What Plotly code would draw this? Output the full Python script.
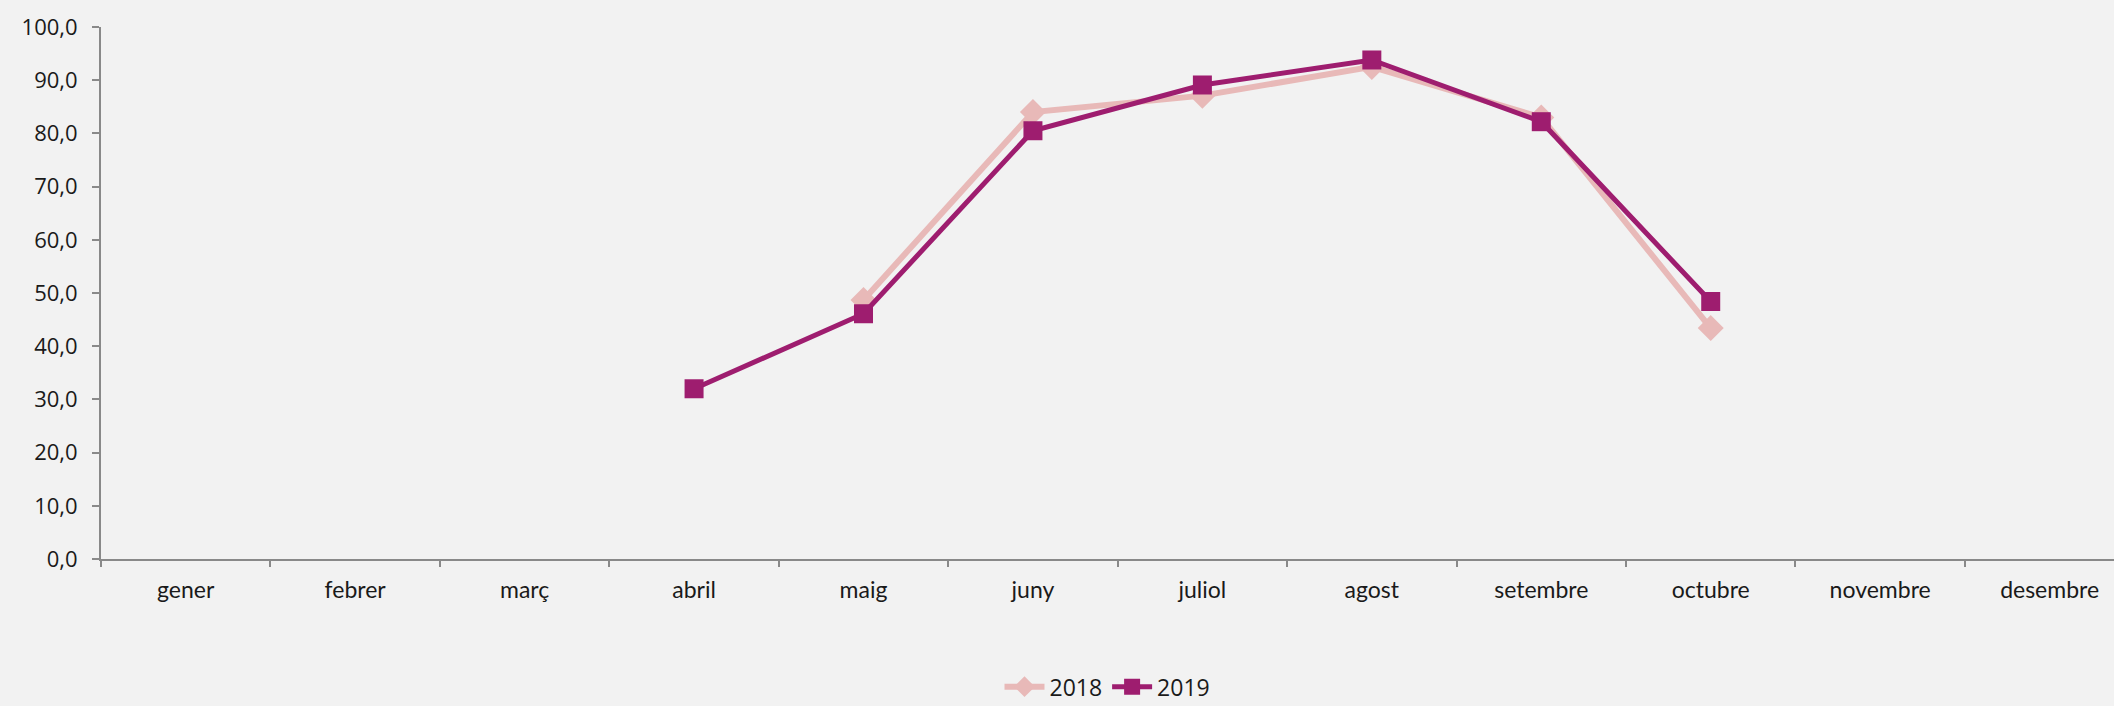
import plotly.graph_objects as go

months = ["gener", "febrer", "març", "abril", "maig", "juny", "juliol",
          "agost", "setembre", "octubre", "novembre", "desembre"]
values_2018 = [None, None, None, None, 48.7, 84.0, 87.1, 92.5, 83.0, 43.4, None, None]
values_2019 = [None, None, None, 32.0, 46.1, 80.5, 89.1, 93.8, 82.2, 48.4, None, None]
y_ticks = [0, 10, 20, 30, 40, 50, 60, 70, 80, 90, 100]

fig = go.Figure()
fig.add_trace(go.Scatter(
    x=months, y=values_2018, name="2018", mode="lines+markers",
    line=dict(color="#E8B9B8", width=6),
    marker=dict(symbol="diamond", size=20, color="#E8B9B8"),
))
fig.add_trace(go.Scatter(
    x=months, y=values_2019, name="2019", mode="lines+markers",
    line=dict(color="#9E1D6F", width=5),
    marker=dict(symbol="square", size=19, color="#9E1D6F"),
))

fig.update_layout(
    width=2114, height=706,
    margin=dict(l=101, r=0, t=27, b=147, autoexpand=False),
    paper_bgcolor="#F2F2F2", plot_bgcolor="#F2F2F2",
    separators=",.",
    showlegend=True,
    legend=dict(orientation="h", x=0.5, xanchor="center", y=-0.24, yanchor="middle",
                font=dict(family="Open Sans", size=23, color="#1a1a1a"),
                bgcolor="rgba(0,0,0,0)", itemwidth=40),
    font=dict(family="Open Sans", color="#1a1a1a"),
)
fig.update_xaxes(
    type="category", categoryorder="array", categoryarray=months,
    range=[-0.5, 11.38], tickson="boundaries",
    showline=True, linecolor="#898989", linewidth=2,
    ticks="outside", ticklen=6, tickcolor="#898989", tickwidth=2,
    showgrid=False, zeroline=False,
    tickfont=dict(family="Lato", size=23, color="#1a1a1a"),
    ticklabelstandoff=9,
)
fig.update_yaxes(
    range=[0, 100], tickvals=y_ticks, tickformat=".1f",
    showline=True, linecolor="#898989", linewidth=2,
    ticks="outside", ticklen=7, tickcolor="#898989", tickwidth=2,
    showgrid=False, zeroline=False,
    tickfont=dict(family="Open Sans", size=22, color="#1a1a1a"),
    ticklabelstandoff=10,
)

fig.write_html(
    "out.html",
    config={"displayModeBar": False},
    post_script="document.body.style.margin='0';document.body.style.background='#F2F2F2';",
)
